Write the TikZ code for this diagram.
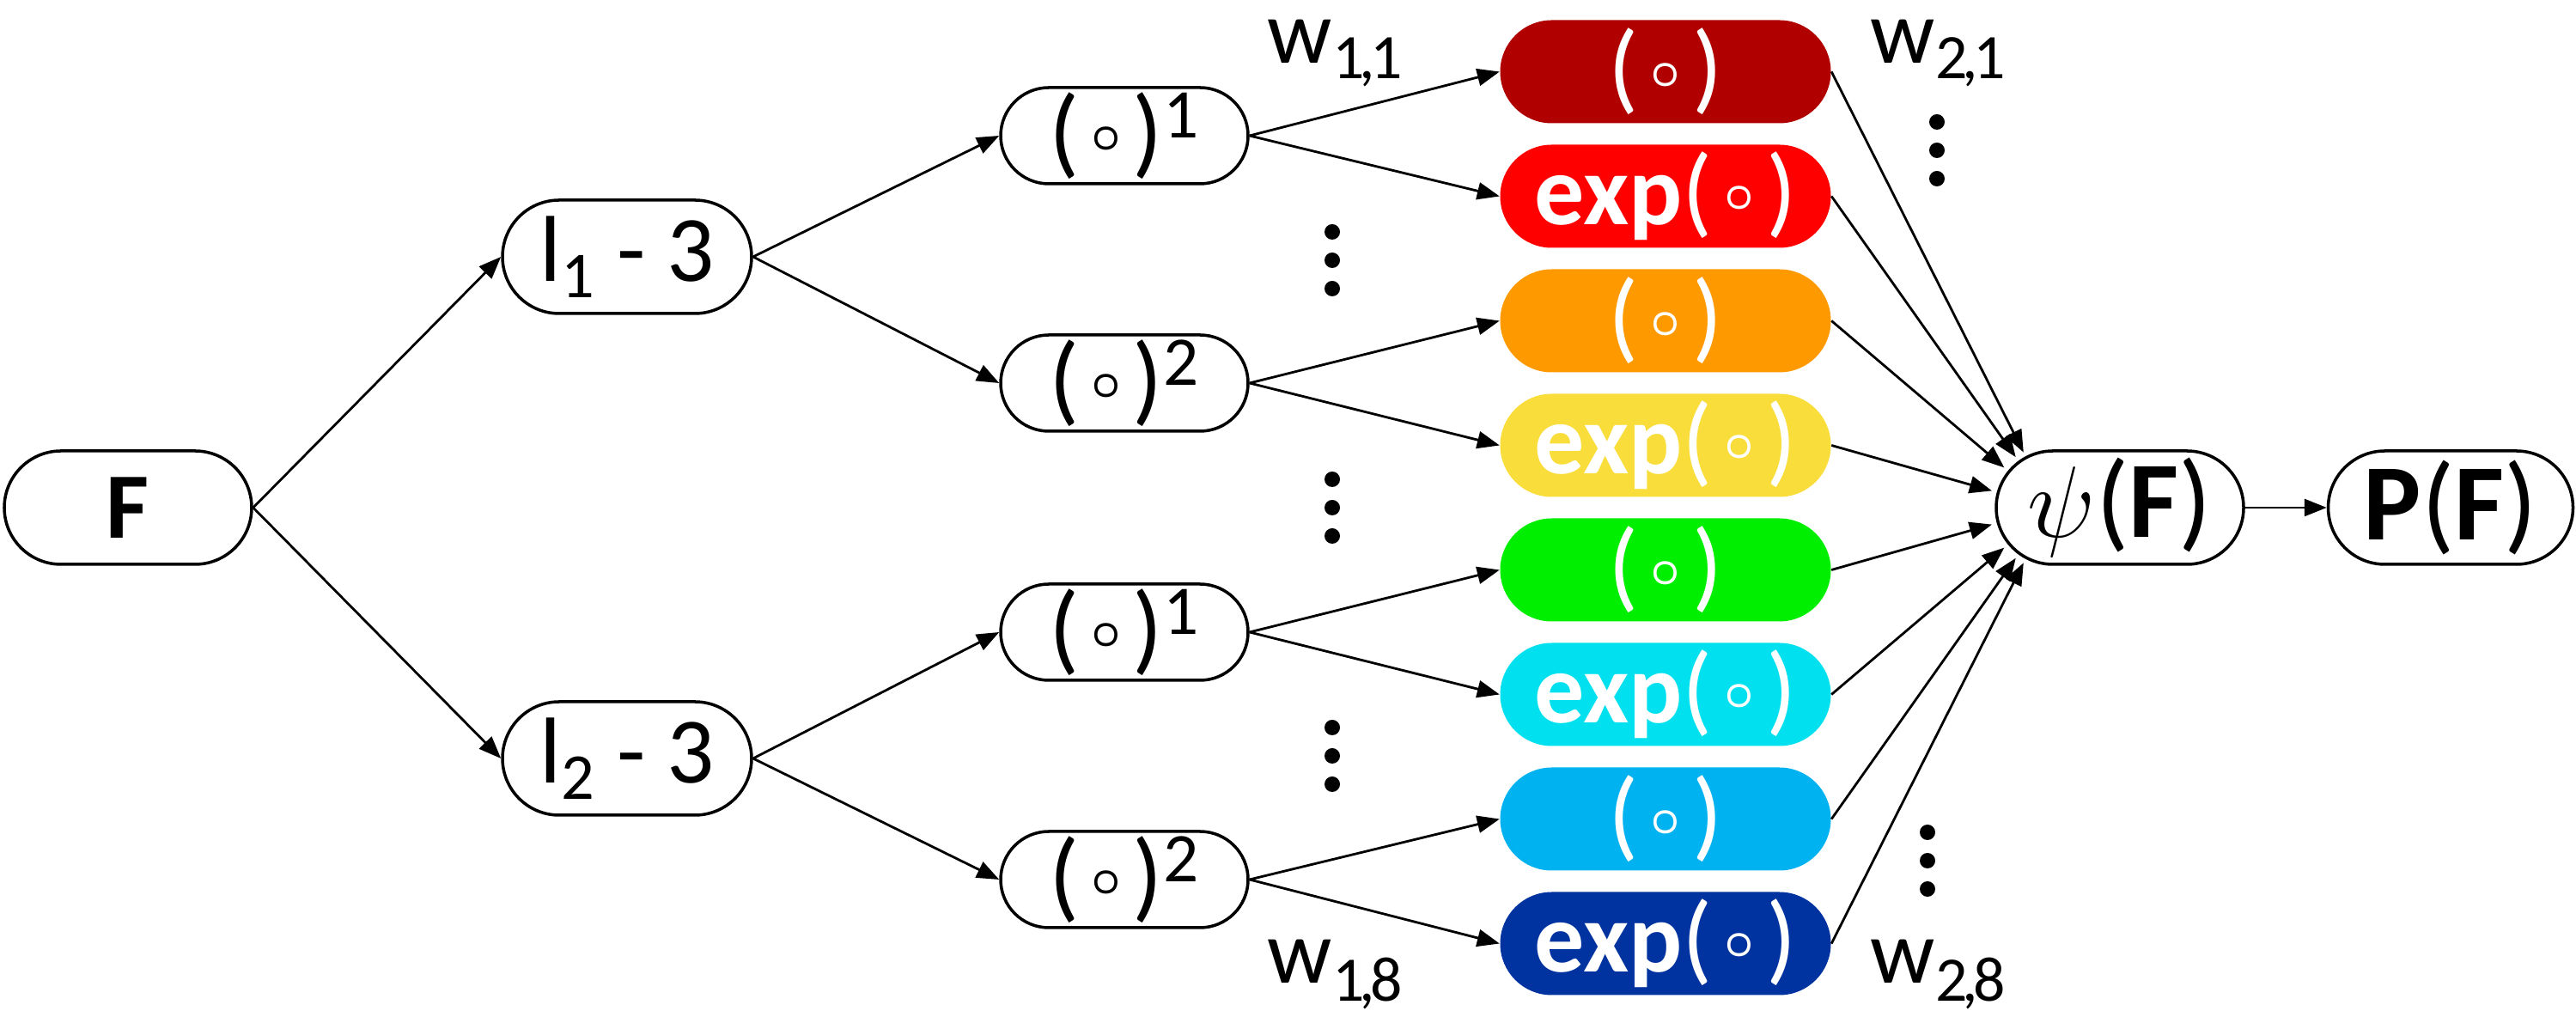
\documentclass[tikz,border=0pt]{standalone}
\usepackage{fontspec}
\setmainfont{Carlito}
\usetikzlibrary{shapes.misc,arrows.meta}

\definecolor{darkred}{HTML}{B00000}
\definecolor{brightred}{HTML}{FF0000}
\definecolor{orange}{HTML}{FF9900}
\definecolor{yellow}{HTML}{F9DD3B}
\definecolor{green}{HTML}{00EE00}
\definecolor{cyan}{HTML}{00E0EE}
\definecolor{lightblue}{HTML}{00B2F0}
\definecolor{darkblue}{HTML}{0033A0}

% small bold circle, lifted to the middle of the brackets
\newcommand{\cir}{\hspace{0.12em}\raisebox{4.5pt}{\fontsize{18}{18}\selectfont\boldmath$\circ$}\hspace{0.12em}}
\newcommand{\wsub}[2]{w\textsubscript{#1\kern-0.08em,\kern-0.08em#2}}

\begin{document}
\begin{tikzpicture}[
  >={Triangle[length=0.26cm,width=0.2cm]},
  box/.style={draw,line width=1pt,rounded rectangle,inner sep=0pt,minimum width=2.88cm,minimum height=1.12cm,font=\fontsize{33}{38}\selectfont},
  fn/.style={rounded rectangle,fill=#1,text=white,inner sep=0pt,minimum width=3.85cm,minimum height=1.2cm,font=\fontsize{33}{38}\selectfont},
  wlabel/.style={anchor=base west,inner sep=0pt,font=\fontsize{30}{36}\selectfont},
  edge/.style={->,line width=0.8pt}
]
\useasboundingbox (0,0) rectangle (29.99,11.84);

\node[box,minimum height=1.32cm,font=\fontsize{31}{36}\selectfont] (0) at (1.49,5.93) {\textbf{F}};

\node[box,minimum width=2.9cm,minimum height=1.32cm,font=\fontsize{31}{36}\selectfont] (1) at (7.30,8.85) {l\textsubscript{1} - 3};
\node[box,minimum width=2.9cm,minimum height=1.32cm,font=\fontsize{31}{36}\selectfont] (2) at (7.30,3.01) {l\textsubscript{2} - 3};

\node[box] (3) at (13.09,10.26) {(\cir)\textsuperscript{1}};
\node[box] (4) at (13.09,7.38) {(\cir)\textsuperscript{2}};
\node[box] (5) at (13.09,4.48) {(\cir)\textsuperscript{1}};
\node[box] (6) at (13.09,1.60) {(\cir)\textsuperscript{2}};

\node[fn=darkred] (7) at (19.39,11.005) {(\cir)};
\node[fn=brightred] (8) at (19.39,9.555) {\textbf{exp}(\cir)};
\node[fn=orange] (9) at (19.39,8.105) {(\cir)};
\node[fn=yellow] (10) at (19.39,6.655) {\textbf{exp}(\cir)};
\node[fn=green] (11) at (19.39,5.205) {(\cir)};
\node[fn=cyan] (12) at (19.39,3.755) {\textbf{exp}(\cir)};
\node[fn=lightblue] (13) at (19.39,2.305) {(\cir)};
\node[fn=darkblue] (14) at (19.39,0.855) {\textbf{exp}(\cir)};

\node[box,minimum width=2.88cm,minimum height=1.32cm,font=\fontsize{36}{40}\selectfont] (15) at (24.68,5.93) {\scalebox{1.35}{$\psi$}(\textbf{F})};
\node[box,minimum width=2.85cm,minimum height=1.32cm,font=\fontsize{36}{40}\selectfont] (16) at (28.53,5.93) {\textbf{P}(\textbf{F})};
\coordinate (15c) at ([xshift=0.66cm]15.west);

\node[wlabel] (w11) at (14.75,11.1) {\wsub{1}{1}};
\node[wlabel] (w18) at (14.75,0.39) {\wsub{1}{8}};
\node[wlabel] (w21) at (21.77,11.1) {\wsub{2}{1}};
\node[wlabel] (w28) at (21.77,0.39) {\wsub{2}{8}};

% vertical dots
\foreach \x/\y in {15.51/8.81,15.51/5.93,15.51/3.04,22.55/10.09,22.44/1.82}
  \foreach \d in {-0.33,0,0.33}
    \fill (\x,\y+\d) circle (0.09);

\draw[edge] (0.east)--(1.west);
\draw[edge] (0.east)--(2.west);
\draw[edge] (1.east)--(3.west);
\draw[edge] (1.east)--(4.west);
\draw[edge] (2.east)--(5.west);
\draw[edge] (2.east)--(6.west);
\draw[edge] (3.east)--(7.west);
\draw[edge] (3.east)--(8.west);
\draw[edge] (4.east)--(9.west);
\draw[edge] (4.east)--(10.west);
\draw[edge] (5.east)--(11.west);
\draw[edge] (5.east)--(12.west);
\draw[edge] (6.east)--(13.west);
\draw[edge] (6.east)--(14.west);
\foreach \i in {7,...,14}
  \draw[edge,shorten >=0.72cm] (\i.east)--(15c);
\draw[edge] (15.east)--(16.west);

\end{tikzpicture}
\end{document}
